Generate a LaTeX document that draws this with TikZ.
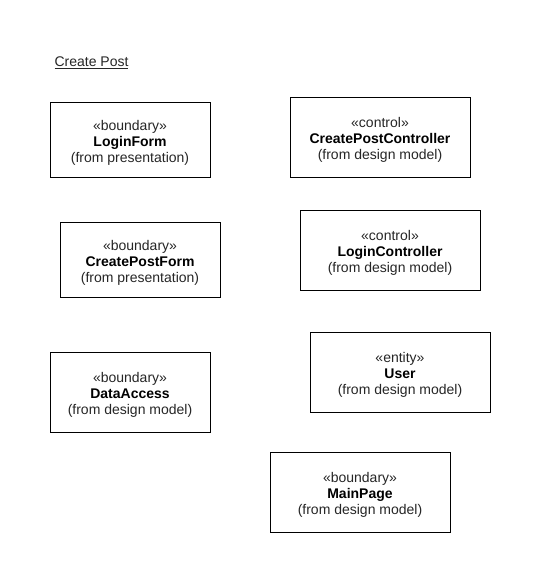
\documentclass[tikz,border=0pt]{standalone}
\usepackage{fontspec}
\setmainfont{Liberation Sans}
\begin{document}
\begin{tikzpicture}[x=1pt,y=-1pt,
  txt/.style={font=\fontsize{14}{16}\selectfont,text=black!85},
  cls/.style={draw=black,line width=0.9pt,fill=white,minimum width=#1,minimum height=80pt,inner sep=0pt},
  cls/.default=160pt,
  lbl/.style={txt,align=center,inner sep=0pt}]
\useasboundingbox[fill=white] (0,0) rectangle (541,583);
\node[anchor=west,txt] (title) at (51,62.5) {\underline{Create Post}};
\node[cls=160pt,minimum height=75pt] (loginform) at (130,139.5) {};
\node[cls=180pt] (cpc) at (380,137) {};
\node[cls=160pt,minimum height=75pt] (cpf) at (140,259.5) {};
\node[cls=180pt] (lc) at (390,250) {};
\node[cls=160pt] (da) at (130,392) {};
\node[cls=180pt] (user) at (400,372) {};
\node[cls=180pt] (main) at (360,492) {};
\node[lbl] (loginform-t) at ([yshift=-3pt]loginform.center) {«boundary»\\\textbf{\textcolor{black}{LoginForm}}\\(from presentation)};
\node[lbl] (cpc-t) at ([yshift=-3pt]cpc.center) {«control»\\\textbf{\textcolor{black}{CreatePostController}}\\(from design model)};
\node[lbl] (cpf-t) at ([yshift=-3pt]cpf.center) {«boundary»\\\textbf{\textcolor{black}{CreatePostForm}}\\(from presentation)};
\node[lbl] (lc-t) at ([yshift=-3pt]lc.center) {«control»\\\textbf{\textcolor{black}{LoginController}}\\(from design model)};
\node[lbl] (da-t) at ([yshift=-3pt]da.center) {«boundary»\\\textbf{\textcolor{black}{DataAccess}}\\(from design model)};
\node[lbl] (user-t) at ([yshift=-3pt]user.center) {«entity»\\\textbf{\textcolor{black}{User}}\\(from design model)};
\node[lbl] (main-t) at ([yshift=-3pt]main.center) {«boundary»\\\textbf{\textcolor{black}{MainPage}}\\(from design model)};
\end{tikzpicture}
\end{document}
